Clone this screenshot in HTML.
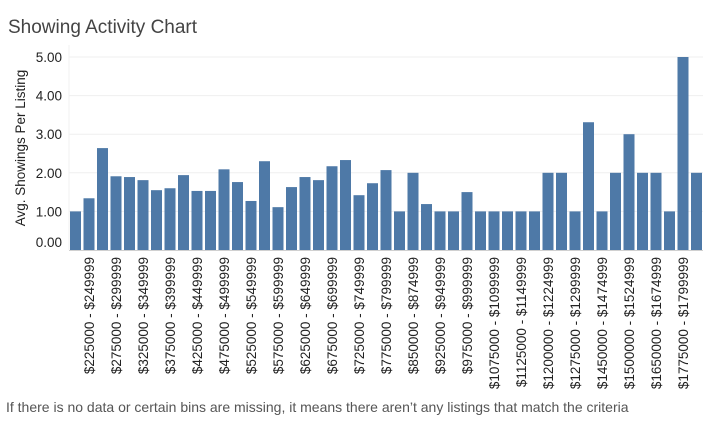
<!DOCTYPE html>
<html><head><meta charset="utf-8"><style>
body{margin:0;background:#fff;width:711px;height:425px;overflow:hidden;font-family:"Liberation Sans",sans-serif}
#title{position:absolute;left:8px;top:17px;font-size:19px;color:#444}
#foot{position:absolute;left:6px;top:399px;font-size:14px;color:#555}
svg{position:absolute;left:0;top:0}
</style></head><body>
<div id="title">Showing Activity Chart</div>
<svg id="c" width="711" height="425"></svg>
<div id="foot">If there is no data or certain bins are missing, it means there aren’t any listings that match the criteria</div>
<script>
const categories=["$200000 - $224999","$225000 - $249999","$250000 - $274999","$275000 - $299999","$300000 - $324999","$325000 - $349999","$350000 - $374999","$375000 - $399999","$400000 - $424999","$425000 - $449999","$450000 - $474999","$475000 - $499999","$500000 - $524999","$525000 - $549999","$550000 - $574999","$575000 - $599999","$600000 - $624999","$625000 - $649999","$650000 - $674999","$675000 - $699999","$700000 - $724999","$725000 - $749999","$750000 - $774999","$775000 - $799999","$825000 - $849999","$850000 - $874999","$900000 - $924999","$925000 - $949999","$950000 - $974999","$975000 - $999999","$1050000 - $1074999","$1075000 - $1099999","$1100000 - $1124999","$1125000 - $1149999","$1175000 - $1199999","$1200000 - $1224999","$1250000 - $1274999","$1275000 - $1299999","$1425000 - $1449999","$1450000 - $1474999","$1475000 - $1499999","$1500000 - $1524999","$1625000 - $1649999","$1650000 - $1674999","$1750000 - $1774999","$1775000 - $1799999","$1800000 - $1824999"];
const values=[1.0,1.34,2.64,1.91,1.89,1.81,1.55,1.60,1.94,1.53,1.53,2.09,1.76,1.27,2.30,1.11,1.63,1.89,1.81,2.17,2.33,1.42,1.73,2.07,1.0,2.0,1.19,1.0,1.0,1.5,1.0,1.0,1.0,1.0,1.0,2.0,2.0,1.0,3.31,1.0,2.0,3.0,2.0,2.0,1.0,5.0,2.0];
const yTicks=[0,1,2,3,4,5];
const yTickLabels=["0.00","1.00","2.00","3.00","4.00","5.00"];
const NS="http://www.w3.org/2000/svg",svg=document.getElementById('c');
const x0=70,x1=702,y0=250,unit=38.6;
const y=v=>y0-v*unit;
const step=(x1-x0+2.5)/categories.length,bw=step-2.5;
const xb=i=>x0+i*step;
function mk(t,a,p){const e=document.createElementNS(NS,t);for(const k in a)e.setAttribute(k,a[k]);(p||svg).appendChild(e);return e;}
yTicks.forEach((t,i)=>{
 if(t>0){const g=mk('line',{x1:69,x2:703,y1:y(t),y2:y(t),stroke:'#efefef','stroke-width':1});
 
 }
 const ty=t===0?y(t)-8:y(t);
 const l=mk('text',{x:62,y:ty+5,'text-anchor':'end','font-size':13.5,fill:'#222'});
 
 
 l.textContent=yTickLabels[i];
});
const ax=mk('line',{x1:69,x2:69,y1:45,y2:250,stroke:'#f0f0f0'});


values.forEach((v,i)=>{
 const r=mk('rect',{x:xb(i),y:y(v),width:bw,height:v*unit,fill:'#4e79a7'});
 
 
 if(i%2===1){
  const cx=xb(i)+bw/2+5;
  const t=mk('text',{x:cx,y:257,transform:`rotate(-90 ${cx} 257)`,'text-anchor':'end','font-size':13.5,fill:'#222'});
  
  
  t.textContent=categories[i];
 }
});
const bl=mk('line',{x1:69,x2:703,y1:250.5,y2:250.5,stroke:'#d0d0d0'});


const yt=mk('text',{x:25,y:148,transform:'rotate(-90 25 148)','text-anchor':'middle','font-size':13.5,fill:'#222'});


yt.textContent='Avg. Showings Per Listing';
</script>
</body></html>
